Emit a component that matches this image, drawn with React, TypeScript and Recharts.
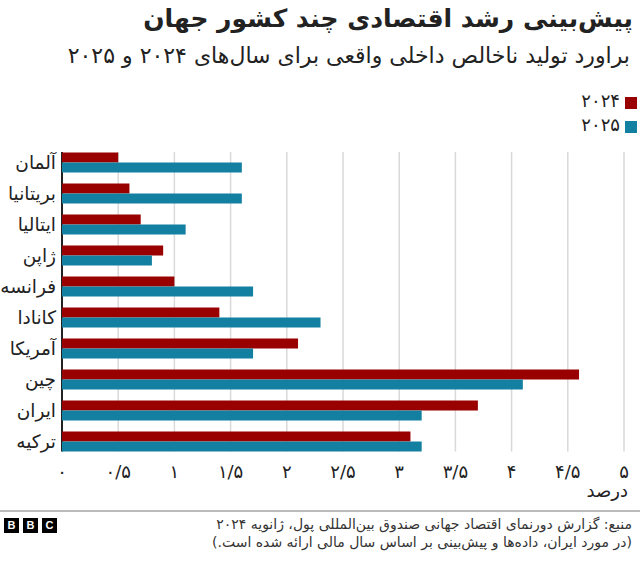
import React from "react";
import { BarChart, Bar, XAxis, YAxis, CartesianGrid } from "recharts";

const countries = ["آلمان", "بریتانیا", "ایتالیا", "ژاپن", "فرانسه", "کانادا", "آمریکا", "چین", "ایران", "ترکیه"];
const growth2024 = [0.5, 0.6, 0.7, 0.9, 1.0, 1.4, 2.1, 4.6, 3.7, 3.1];
const growth2025 = [1.6, 1.6, 1.1, 0.8, 1.7, 2.3, 1.7, 4.1, 3.2, 3.2];
const tickValues = [0, 0.5, 1, 1.5, 2, 2.5, 3, 3.5, 4, 4.5, 5];
const tickLabels = ["۰", "۰/۵", "۱", "۱/۵", "۲", "۲/۵", "۳", "۳/۵", "۴", "۴/۵", "۵"];
const seriesNames = ["۲۰۲۴", "۲۰۲۵"];

const RED = "#990000";
const BLUE = "#1380A1";
const FONT = "'DejaVu Sans', sans-serif";

const data = countries.map((c, i) => ({ name: c, y2024: growth2024[i], y2025: growth2025[i] }));

const XTick = (props: any) => {
  const { x, payload } = props;
  const idx = tickValues.indexOf(payload.value);
  return (
    <text x={x} y={471} textAnchor="middle" dominantBaseline="central" fontFamily={FONT} fontSize={18} fill="#222">
      {idx >= 0 ? tickLabels[idx] : ""}
    </text>
  );
};

const YTick = (props: any) => {
  const { y, payload } = props;
  return (
    <text x={56} y={y} textAnchor="end" dominantBaseline="central" fontFamily={FONT} fontSize={18.5} fill="#222">
      {payload.value}
    </text>
  );
};

const gridLine = (props: any) => {
  const { x1, x2, y1, y2, index } = props;
  const isAxis = Math.abs(x1 - 62) < 1;
  return (
    <line
      key={"g" + index + "-" + x1}
      x1={x1}
      x2={x2}
      y1={y1 + 5.5}
      y2={y2 - 5}
      stroke={isAxis ? "#222" : "#d9d9d9"}
      strokeWidth={isAxis ? 2 : 1.5}
    />
  );
};

export default function App() {
  return (
    <div style={{ position: "absolute", left: 0, top: 0, width: 640, height: 563, background: "#fff", overflow: "hidden", fontFamily: FONT }}>
      <div style={{ position: "absolute", right: 7, top: 4, direction: "rtl", fontSize: 25, fontWeight: "bold", color: "#222", whiteSpace: "nowrap" }}>
        پیش‌بینی رشد اقتصادی چند کشور جهان
      </div>
      <div style={{ position: "absolute", right: 10, top: 43, direction: "rtl", fontSize: 22, color: "#222", whiteSpace: "nowrap" }}>
        براورد تولید ناخالص داخلی واقعی برای سال‌های ۲۰۲۴ و ۲۰۲۵
      </div>
      {/* legend */}
      <div style={{ position: "absolute", left: 625, top: 97, width: 12, height: 12, background: RED }} />
      <div style={{ position: "absolute", right: 20, top: 90, fontSize: 18, color: "#222", direction: "rtl" }}>{seriesNames[0]}</div>
      <div style={{ position: "absolute", left: 625, top: 121, width: 12, height: 12, background: BLUE }} />
      <div style={{ position: "absolute", right: 20, top: 114, fontSize: 18, color: "#222", direction: "rtl" }}>{seriesNames[1]}</div>

      <div style={{ position: "absolute", left: 0, top: 0 }}>
        <BarChart
          width={640}
          height={563}
          data={data}
          layout="vertical"
          margin={{ top: 146.5, right: 16, bottom: 0, left: 0 }}
          barSize={10}
          barGap={0}
        >
          <CartesianGrid horizontal={false} vertical={gridLine} />
          <XAxis
            type="number"
            domain={[0, 5]}
            ticks={tickValues}
            interval={0}
            axisLine={false}
            tickLine={false}
            height={106.5}
            tick={<XTick />}
          />
          <YAxis type="category" dataKey="name" width={62} axisLine={false} tickLine={false} tick={<YTick />} interval={0} />
          <Bar dataKey="y2024" fill={RED} isAnimationActive={false} />
          <Bar dataKey="y2025" fill={BLUE} isAnimationActive={false} />
        </BarChart>
      </div>

      <div style={{ position: "absolute", right: 12, top: 480, fontSize: 18, color: "#222", direction: "rtl" }}>درصد</div>

      <div style={{ position: "absolute", left: 0, top: 510, width: 640, height: 2, background: "#bbbbbb" }} />

      {["B", "B", "C"].map((l, i) => (
        <div
          key={i}
          style={{
            position: "absolute",
            left: 4 + i * 19,
            top: 518,
            width: 15,
            height: 15,
            background: "#000",
            color: "#fff",
            fontSize: 11,
            fontWeight: "bold",
            lineHeight: "15px",
            textAlign: "center",
            fontFamily: "'Liberation Sans', sans-serif",
          }}
        >
          {l}
        </div>
      ))}

      <div style={{ position: "absolute", right: 8, top: 515, direction: "rtl", fontSize: 14, lineHeight: "18px", color: "#333", whiteSpace: "nowrap", textAlign: "right" }}>
        منبع: گزارش دورنمای اقتصاد جهانی صندوق بین‌المللی پول، ژانویه ۲۰۲۴
        <br />
        (در مورد ایران، داده‌ها و پیش‌بینی بر اساس سال مالی ارائه شده است.)
      </div>
    </div>
  );
}
